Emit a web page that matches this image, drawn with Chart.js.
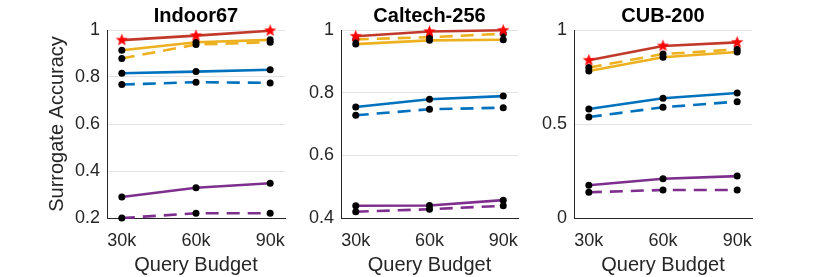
<!DOCTYPE html>
<html>
<head>
<meta charset="utf-8">
<script src="https://cdn.jsdelivr.net/npm/chart.js@4.4.0/dist/chart.umd.min.js"></script>
<style>
body { margin: 0; background: #fff; width: 830px; height: 277px; position: relative; overflow: hidden; }
.panel { position: absolute; top: 0; height: 277px; }
</style>
</head>
<body>
<div class="panel" style="left:0;width:300px"><canvas id="graficoIndoor"></canvas></div>
<div class="panel" style="left:300px;width:225px"><canvas id="graficoCaltech"></canvas></div>
<div class="panel" style="left:525px;width:305px"><canvas id="graficoCub"></canvas></div>
<script>
// Presupuestos de consulta (miles)
const presupuestos = [30, 60, 90];

// Indoor67
const indoorRojo = [0.957, 0.976, 0.997];
const indoorAmarillo = [0.914, 0.948, 0.958];
const indoorAmarilloDash = [0.879, 0.938, 0.948];
const indoorAzul = [0.816, 0.823, 0.831];
const indoorAzulDash = [0.768, 0.778, 0.775];
const indoorMorado = [0.289, 0.329, 0.348];
const indoorMoradoDash = [0.2, 0.22, 0.22];

// Caltech-256
const caltechRojo = [0.980, 0.995, 0.999];
const caltechAmarillo = [0.955, 0.967, 0.969];
const caltechAmarilloDash = [0.970, 0.977, 0.988];
const caltechAzul = [0.754, 0.779, 0.789];
const caltechAzulDash = [0.728, 0.747, 0.752];
const caltechMorado = [0.439, 0.440, 0.457];
const caltechMoradoDash = [0.420, 0.428, 0.439];

// CUB-200
const cubRojo = [0.839, 0.915, 0.934];
const cubAmarillo = [0.782, 0.855, 0.883];
const cubAmarilloDash = [0.800, 0.872, 0.897];
const cubAzul = [0.580, 0.637, 0.665];
const cubAzulDash = [0.537, 0.589, 0.619];
const cubMorado = [0.174, 0.209, 0.223];
const cubMoradoDash = [0.137, 0.149, 0.149];

// Marcas de eje Y por panel
const ticksIndoor = [0.2, 0.4, 0.6, 0.8, 1];
const ticksCaltech = [0.4, 0.6, 0.8, 1];
const ticksCub = [0, 0.5, 1];

Chart.defaults.font.family = "'Liberation Sans', Arial, sans-serif";
Chart.defaults.color = '#262626';

const ROJO = '#C1392B';
const AMARILLO = '#EDB120';
const AZUL = '#0072BD';
const MORADO = '#7E2F8E';
const DASH = [13, 8];

// Estrella roja (pentagrama) para los marcadores
function crearEstrella(r) {
    const c = document.createElement('canvas');
    const s = Math.ceil(r * 2 + 2);
    c.width = s; c.height = s;
    const g = c.getContext('2d');
    g.beginPath();
    for (let i = 0; i < 10; i++) {
        const rad = i % 2 === 0 ? r : r * 0.42;
        const a = -Math.PI / 2 + i * Math.PI / 5;
        g.lineTo(s / 2 + rad * Math.cos(a), s / 2 + rad * Math.sin(a));
    }
    g.closePath();
    g.fillStyle = '#ff0000';
    g.fill();
    return c;
}
const estrella = crearEstrella(6.5);

function serie(valores, color, dash, esRojo) {
    return {
        data: presupuestos.map((b, i) => ({ x: b, y: valores[i] })),
        borderColor: color,
        borderWidth: 2.6,
        borderDash: dash ? DASH : [],
        pointStyle: esRojo ? estrella : 'circle',
        pointRadius: 3.5,
        pointBackgroundColor: '#000',
        pointBorderWidth: 0,
        tension: 0,
        clip: false
    };
}

function crearPanel(id, titulo, series, ticksY, anchoY, margenDer, tituloY) {
    const ctx = document.getElementById(id).getContext('2d');
    new Chart(ctx, {
        type: 'line',
        data: {
            datasets: [
                serie(series[0], ROJO, false, true),
                serie(series[1], AMARILLO, false),
                serie(series[2], AMARILLO, true),
                serie(series[3], AZUL, false),
                serie(series[4], AZUL, true),
                serie(series[5], MORADO, false),
                serie(series[6], MORADO, true)
            ]
        },
        options: {
            responsive: true,
            maintainAspectRatio: false,
            animation: false,
            layout: { padding: { left: 0, right: margenDer, top: 0, bottom: 0 } },
            plugins: {
                legend: { display: false },
                tooltip: { enabled: false },
                title: {
                    display: true,
                    text: titulo,
                    fullSize: false,
                    color: '#000',
                    font: { size: 20, weight: 'bold' },
                    padding: { top: 4, bottom: 2 }
                }
            },
            scales: {
                x: {
                    type: 'linear',
                    min: 24,
                    max: 96,
                    afterBuildTicks: function(s) {
                        s.ticks = presupuestos.map(v => ({ value: v }));
                    },
                    afterFit: function(s) { s.height = 59; },
                    grid: { display: false },
                    border: { color: '#262626', width: 1 },
                    ticks: {
                        font: { size: 18 },
                        padding: 4,
                        maxRotation: 0,
                        callback: function(v) { return v + 'k'; }
                    },
                    title: {
                        display: true,
                        text: 'Query Budget',
                        font: { size: 20 },
                        padding: { top: 0, bottom: 0 }
                    }
                },
                y: {
                    min: ticksY[0],
                    max: ticksY[ticksY.length - 1],
                    afterBuildTicks: function(s) {
                        s.ticks = ticksY.map(v => ({ value: v }));
                    },
                    afterFit: function(s) { s.width = anchoY; },
                    grid: { color: '#e3e3e3', drawTicks: false },
                    border: { color: '#262626', width: 1 },
                    ticks: {
                        font: { size: 18 },
                        padding: 7,
                        callback: function(v) { return String(+v.toFixed(1)); }
                    },
                    title: {
                        display: tituloY,
                        text: 'Surrogate Accuracy',
                        font: { size: 20 },
                        padding: { top: 45, bottom: 0 }
                    }
                }
            }
        }
    });
}

crearPanel('graficoIndoor', 'Indoor67',
    [indoorRojo, indoorAmarillo, indoorAmarilloDash, indoorAzul, indoorAzulDash, indoorMorado, indoorMoradoDash],
    ticksIndoor, 107, 15, true);
crearPanel('graficoCaltech', 'Caltech-256',
    [caltechRojo, caltechAmarillo, caltechAmarilloDash, caltechAzul, caltechAzulDash, caltechMorado, caltechMoradoDash],
    ticksCaltech, 41, 7, false);
crearPanel('graficoCub', 'CUB-200',
    [cubRojo, cubAmarillo, cubAmarilloDash, cubAzul, cubAzulDash, cubMorado, cubMoradoDash],
    ticksCub, 49, 78, false);
</script>
</body>
</html>
